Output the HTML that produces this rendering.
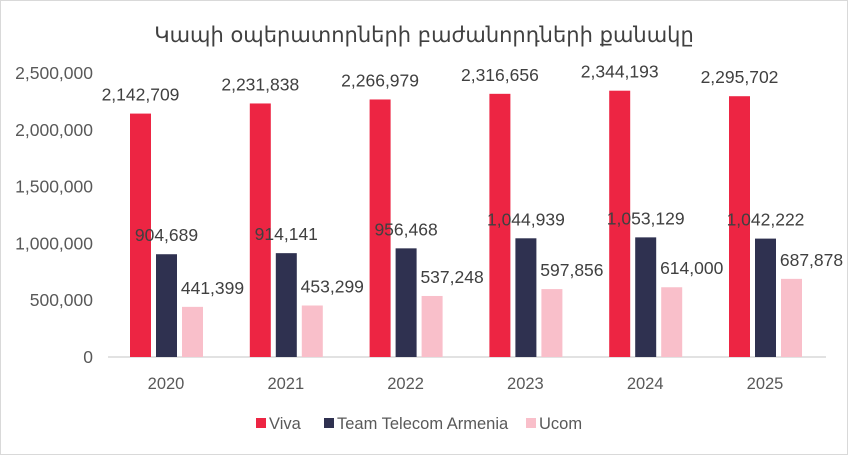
<!DOCTYPE html>
<html><head><meta charset="utf-8"><style>
body{margin:0;background:#fff}
svg{display:block;font-family:"Liberation Sans","DejaVu Sans",sans-serif}
</style></head><body>
<svg width="848" height="455" viewBox="0 0 848 455">
<rect x="0.5" y="0.5" width="847" height="454" fill="#fff" stroke="#d9d9d9"/>
<text x="424" y="42" text-anchor="middle" font-size="21" fill="#404040" font-family="'DejaVu Sans',sans-serif">Կապի օպերատորների բաժանորդների քանակը</text>
<g id="yaxis"></g>
<line x1="108" y1="357" x2="826" y2="357" stroke="#d9d9d9" stroke-width="1.5"/>
<g id="bars"></g>
<g id="legend"></g>
</svg>
<script>
const categories=["2020","2021","2022","2023","2024","2025"];
const viva=[2142709,2231838,2266979,2316656,2344193,2295702];
const team=[904689,914141,956468,1044939,1053129,1042222];
const ucom=[441399,453299,537248,597856,614000,687878];
const yTicks=[0,500000,1000000,1500000,2000000,2500000];
const seriesNames=["Viva","Team Telecom Armenia","Ucom"];
const NS="http://www.w3.org/2000/svg";
const y0=357,yTop=73,yMax=2500000;
const y=v=>y0-(v/yMax)*(y0-yTop);
const x=i=>166+i*119.8;
function mk(tag,attrs,parent,txt){const e=document.createElementNS(NS,tag);for(const k in attrs)e.setAttribute(k,attrs[k]);if(txt!=null)e.textContent=txt;parent.appendChild(e);return e;}
const fmt=v=>v.toLocaleString("en-US");
const ya=document.getElementById("yaxis");
yTicks.forEach(t=>{const e=mk("text",{x:93,y:y(t)+6,"text-anchor":"end","font-size":17.5,fill:"#595959"},ya,fmt(t));

});
const bg=document.getElementById("bars");
const series=[viva,team,ucom];const colors=["#ed2543","#2f3150","#f9bfca"];
const offs=[-25.5,0.5,26.5];const lblOff=[0,0,20];
categories.forEach((c,i)=>{
 const t=mk("text",{x:x(i),y:389,"text-anchor":"middle","font-size":16.5,fill:"#595959"},bg,c);
 
 
 series.forEach((s,j)=>{
  const cx=x(i)+offs[j];
  const r=mk("rect",{x:cx-10.5,y:y(s[i]),width:21,height:y0-y(s[i]),fill:colors[j]},bg);
  
  
  const l=mk("text",{x:cx+lblOff[j],y:y(s[i])-13,"text-anchor":"middle","font-size":17.5,fill:"#404040"},bg,fmt(s[i]));
  
  
 });
});
const lg=document.getElementById("legend");
const lx=[256,324,526];
seriesNames.forEach((n,j)=>{
 const r=mk("rect",{x:lx[j],y:418,width:10,height:10,fill:colors[j]},lg);
 
 
 const t=mk("text",{x:lx[j]+13,y:429,"font-size":16.5,fill:"#595959"},lg,n);
 
 
});
</script>
</body></html>
